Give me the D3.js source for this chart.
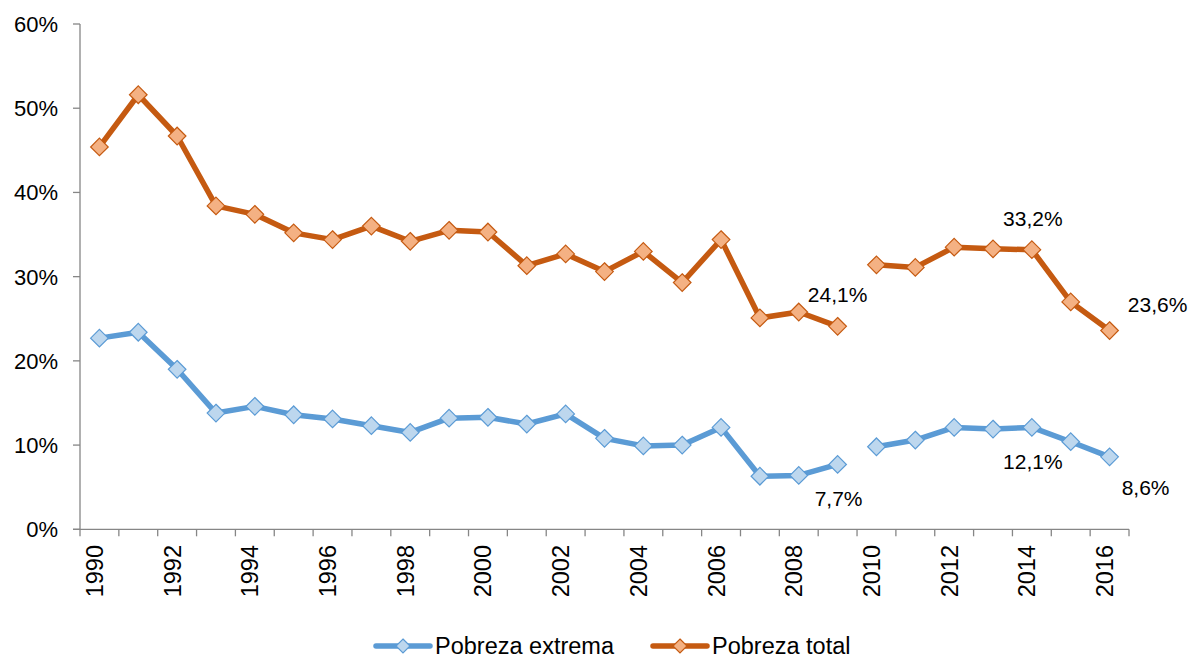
<!DOCTYPE html>
<html>
<head>
<meta charset="utf-8">
<script src="https://cdn.jsdelivr.net/npm/d3@7"></script>
<style>
  html, body { margin: 0; padding: 0; background: #fff; }
  svg { display: block; font-family: "Liberation Sans", Arial, sans-serif; }
</style>
</head>
<body>
<svg id="chart" width="1192" height="659"></svg>
<script>
// ---- data ----
const years = [1990,1991,1992,1993,1994,1995,1996,1997,1998,1999,2000,2001,2002,2003,2004,2005,2006,2007,2008,2009,2010,2011,2012,2013,2014,2015,2016];
const pobrezaExtrema = [22.7,23.4,19.0,13.8,14.6,13.6,13.1,12.3,11.5,13.2,13.3,12.5,13.7,10.8,9.9,10.0,12.1,6.3,6.4,7.7,9.8,10.6,12.1,11.9,12.1,10.4,8.6];
const pobrezaTotal   = [45.4,51.6,46.7,38.4,37.4,35.2,34.4,36.0,34.2,35.5,35.3,31.3,32.7,30.6,33.0,29.3,34.4,25.1,25.8,24.1,31.4,31.1,33.5,33.3,33.2,27.0,23.6];
const seriesNames = ["Pobreza extrema", "Pobreza total"];
const yTicks = [0,10,20,30,40,50,60];
const xTickLabels = [1990,1992,1994,1996,1998,2000,2002,2004,2006,2008,2010,2012,2014,2016];
const segmentStarts = [1990, 2010];           // line is broken before 2010
const labelYearsExtrema = [2009, 2014, 2016];
const labelYearsTotal   = [2009, 2014, 2016];

// ---- layout ----
const svg = d3.select("#chart");
const plotL = 80, plotR = 1129, plotT = 24, plotB = 529.3;

const x = d3.scaleBand().domain(years).range([plotL, plotR]).paddingInner(0).paddingOuter(0);
const y = d3.scaleLinear().domain([0, 60]).range([plotB, plotT]);
const cx = yr => x(yr) + x.bandwidth() / 2;

const axisColor = "#868686";
const yFont = 22, xFont = 23.5, legendFont = 23.5, labelFont = 21;

// y axis
svg.append("line").attr("x1", plotL).attr("x2", plotL).attr("y1", y(60)).attr("y2", y(0))
  .attr("stroke", axisColor).attr("stroke-width", 1.3);
yTicks.forEach(t => {
  svg.append("line").attr("x1", plotL - 7).attr("x2", plotL).attr("y1", y(t)).attr("y2", y(t))
    .attr("stroke", axisColor).attr("stroke-width", 1.3);
  svg.append("text").attr("x", 58).attr("y", y(t) + 8)
    .attr("text-anchor", "end").attr("font-size", yFont).attr("fill", "#000")
    .text(t + "%");
});

// x axis
svg.append("line").attr("x1", plotL - 7).attr("x2", plotR).attr("y1", y(0)).attr("y2", y(0))
  .attr("stroke", axisColor).attr("stroke-width", 1.3);
const boundaries = years.map(yr => x(yr)).concat([plotR]);
boundaries.forEach(bx => {
  svg.append("line").attr("x1", bx).attr("x2", bx).attr("y1", y(0)).attr("y2", y(0) + 7)
    .attr("stroke", axisColor).attr("stroke-width", 1.3);
});
xTickLabels.forEach(yr => {
  svg.append("text")
    .attr("transform", `translate(${cx(yr) + 3.5},545) rotate(-90)`)
    .attr("text-anchor", "end").attr("font-size", xFont).attr("fill", "#000")
    .text(yr);
});

// series
const series = [
  { name: seriesNames[0], values: pobrezaExtrema, line: "#5B9BD5", fill: "#BDD7EE", labels: labelYearsExtrema,
    pos: { 2009: [1, 42], 2014: [1, 42], 2016: [36, 38] } },
  { name: seriesNames[1], values: pobrezaTotal, line: "#C55A11", fill: "#F4B183", labels: labelYearsTotal,
    pos: { 2009: [0, -24], 2014: [1, -24], 2016: [48, -19] } }
];

const lineGen = d3.line().x(d => cx(d.year)).y(d => y(d.value));
const diamond = (g, px, py, s, fill, stroke) => {
  g.append("path")
    .attr("d", `M${px},${py - s}L${px + s},${py}L${px},${py + s}L${px - s},${py}Z`)
    .attr("fill", fill).attr("stroke", stroke).attr("stroke-width", 1.2);
};

series.forEach(s => {
  const pts = years.map((yr, i) => ({ year: yr, value: s.values[i] }));
  const segs = segmentStarts.map((st, k) => {
    const end = k + 1 < segmentStarts.length ? segmentStarts[k + 1] : Infinity;
    return pts.filter(p => p.year >= st && p.year < end);
  });
  const g = svg.append("g");
  segs.forEach(seg => {
    g.append("path").attr("d", lineGen(seg)).attr("fill", "none")
      .attr("stroke", s.line).attr("stroke-width", 5.5)
      .attr("stroke-linejoin", "round").attr("stroke-linecap", "round");
  });
  pts.forEach(p => diamond(g, cx(p.year), y(p.value), 8.8, s.fill, s.line));
  s.labels.forEach(yr => {
    const v = s.values[years.indexOf(yr)];
    const o = s.pos[yr];
    g.append("text").attr("x", cx(yr) + o[0]).attr("y", y(v) + o[1])
      .attr("text-anchor", "middle").attr("font-size", labelFont).attr("fill", "#000")
      .text(v.toFixed(1).replace(".", ",") + "%");
  });
});

// legend
const legendItems = [
  { s: series[0], x1: 376, x2: 430, tx: 435 },
  { s: series[1], x1: 653, x2: 707, tx: 712 }
];
const ly = 646;
legendItems.forEach(it => {
  svg.append("line").attr("x1", it.x1).attr("x2", it.x2).attr("y1", ly).attr("y2", ly)
    .attr("stroke", it.s.line).attr("stroke-width", 5.5).attr("stroke-linecap", "round");
  diamond(svg, (it.x1 + it.x2) / 2, ly, 7, it.s.fill, it.s.line);
  svg.append("text").attr("x", it.tx).attr("y", ly + 8).attr("font-size", legendFont).attr("fill", "#000")
    .text(it.s.name);
});
</script>
</body>
</html>
